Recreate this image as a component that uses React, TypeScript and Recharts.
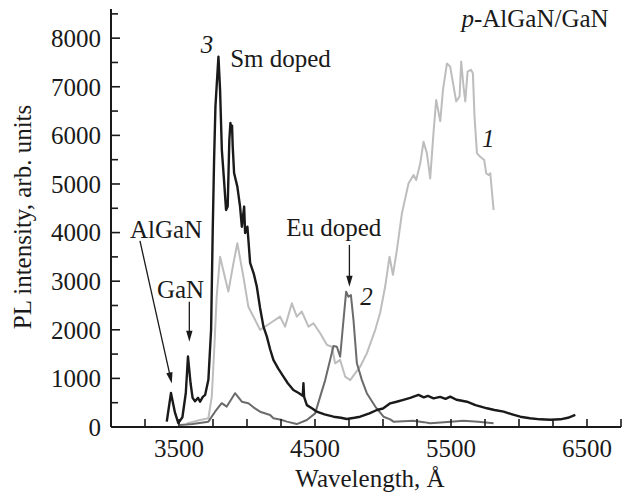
import React from 'react';
import { LineChart, Line, XAxis, YAxis, ReferenceDot, ReferenceLine } from 'recharts';

// Curve 3: Sm doped (black)
const smWavelength = [3410, 3441, 3470, 3495, 3525, 3550, 3566, 3585, 3600, 3618, 3640, 3655, 3675, 3692, 3716, 3736, 3748, 3758, 3768, 3790, 3802, 3815, 3831, 3846, 3858, 3870, 3878, 3885, 3890, 3895, 3905, 3929, 3949, 3962, 3979, 3986, 4003, 4023, 4050, 4072, 4096, 4121, 4146, 4170, 4194, 4230, 4268, 4300, 4341, 4380, 4410, 4415, 4420, 4440, 4480, 4513, 4570, 4636, 4690, 4734, 4790, 4832, 4900, 4955, 5000, 5053, 5100, 5150, 5200, 5261, 5300, 5330, 5372, 5420, 5460, 5494, 5540, 5580, 5617, 5680, 5720, 5764, 5820, 5887, 5950, 6009, 6080, 6156, 6230, 6304, 6360, 6414];
const smIntensity = [110, 700, 300, 80, 200, 700, 1450, 900, 600, 530, 600, 520, 620, 660, 970, 2000, 4050, 5500, 6600, 7620, 6935, 5700, 5080, 4466, 4535, 5900, 6255, 6150, 6200, 5770, 5225, 4945, 4535, 4120, 4535, 3990, 4120, 3375, 3150, 2890, 2450, 2065, 1860, 1600, 1380, 1200, 1035, 900, 760, 700, 640, 900, 620, 450, 380, 315, 260, 212, 190, 165, 190, 212, 280, 350, 380, 487, 520, 560, 600, 660, 610, 640, 590, 620, 580, 625, 560, 540, 520, 450, 420, 385, 350, 315, 260, 212, 180, 158, 150, 158, 190, 247];

// Curve 2: Eu doped (dark gray)
const euWavelength = [3508, 3600, 3716, 3765, 3814, 3851, 3880, 3912, 3940, 3962, 4010, 4050, 4096, 4170, 4194, 4250, 4293, 4366, 4440, 4501, 4538, 4575, 4611, 4636, 4661, 4685, 4705, 4729, 4746, 4764, 4783, 4808, 4845, 4881, 4943, 5004, 5053, 5077, 5150, 5222, 5300, 5347, 5450, 5590, 5700, 5813];
const euIntensity = [40, 60, 110, 315, 490, 420, 550, 695, 600, 520, 490, 400, 315, 247, 180, 150, 110, 60, 145, 280, 625, 965, 1380, 1665, 1650, 1445, 2065, 2785, 2680, 2715, 2200, 1310, 965, 695, 420, 212, 158, 110, 120, 130, 100, 75, 100, 130, 110, 75];

// Curve 1: undoped p-AlGaN/GaN (light gray)
const undopedWavelength = [3557, 3655, 3716, 3741, 3760, 3777, 3802, 3831, 3863, 3900, 3929, 3973, 4010, 4060, 4096, 4170, 4243, 4280, 4330, 4366, 4403, 4452, 4489, 4538, 4587, 4624, 4648, 4685, 4722, 4759, 4795, 4832, 4881, 4943, 4979, 5016, 5048, 5073, 5102, 5139, 5188, 5225, 5244, 5274, 5298, 5323, 5347, 5371, 5391, 5421, 5441, 5470, 5494, 5538, 5563, 5575, 5592, 5605, 5622, 5647, 5661, 5673, 5691, 5715, 5744, 5759, 5776, 5789, 5813];
const undopedIntensity = [75, 145, 180, 625, 1650, 2680, 3505, 3160, 2785, 3365, 3780, 3100, 2475, 2200, 2000, 2135, 2270, 2065, 2545, 2270, 2375, 2065, 2135, 1930, 1690, 1650, 1310, 1380, 1035, 965, 1105, 1240, 1515, 2000, 2350, 2890, 3505, 3130, 3640, 4395, 5015, 5185, 5080, 5425, 5870, 5630, 5115, 6040, 6730, 6290, 6935, 7480, 7415, 6700, 6800, 7520, 7005, 6700, 7310, 7350, 7275, 6380, 5630, 5560, 5495, 5220, 5185, 5220, 4465];

const xTicks = [3250, 3500, 3750, 4000, 4250, 4500, 4750, 5000, 5250, 5500, 5750, 6000, 6250, 6500, 6750];
const xLabels = [3500, 4500, 5500, 6500];
const yTicks = [0, 500, 1000, 1500, 2000, 2500, 3000, 3500, 4000, 4500, 5000, 5500, 6000, 6500, 7000, 7500, 8000, 8500];
const yLabels = [0, 1000, 2000, 3000, 4000, 5000, 6000, 7000, 8000];

const zip = (xs: number[], ys: number[]) => xs.map((x, i) => ({ x, y: ys[i] }));
const smData = zip(smWavelength, smIntensity);
const euData = zip(euWavelength, euIntensity);
const undopedData = zip(undopedWavelength, undopedIntensity);

const FONT = '"Liberation Serif", "Times New Roman", serif';
const INK = '#1a1a1a';

const XTick = (props: any) => {
  const { x, y, payload } = props;
  const v = payload.value;
  return (
    <g>
      <line x1={x} y1={y} x2={x} y2={y - 8} stroke={INK} strokeWidth={1.6} />
      {xLabels.includes(v) && (
        <text x={x} y={y + 30} textAnchor="middle" fontFamily={FONT} fontSize={25} fill={INK}>{v}</text>
      )}
    </g>
  );
};

const YTick = (props: any) => {
  const { x, y, payload } = props;
  const v = payload.value;
  const major = yLabels.includes(v);
  return (
    <g>
      {v !== 0 && <line x1={x} y1={y} x2={x + (major ? 9 : 7)} y2={y} stroke={INK} strokeWidth={1.6} />}
      {major && (
        <text x={x - 10} y={y} dy="0.35em" textAnchor="end" fontFamily={FONT} fontSize={25} fill={INK}>{v}</text>
      )}
    </g>
  );
};

const Arrow = (p: any) => {
  const { x1, y1, x2, y2 } = p;
  const dx = x2 - x1, dy = y2 - y1;
  const len = Math.hypot(dx, dy) || 1;
  const ux = dx / len, uy = dy / len;
  const hl = 11, hw = 3.2;
  const bx = x2 - ux * hl, by = y2 - uy * hl;
  return (
    <g>
      <line x1={x1} y1={y1} x2={bx + ux * 2} y2={by + uy * 2} stroke={INK} strokeWidth={1.3} />
      <polygon points={`${x2},${y2} ${bx - uy * hw},${by + ux * hw} ${bx + uy * hw},${by - ux * hw}`} fill={INK} />
    </g>
  );
};

const makeText = (content: React.ReactNode, anchor: string = 'start', italic = false) => (p: any) => (
  <text x={p.cx} y={p.cy} textAnchor={anchor as any} fontFamily={FONT} fontSize={25} fill={INK} fontStyle={italic ? 'italic' : 'normal'}>
    {content}
  </text>
);

export default function App() {
  return (
    <div style={{ position: 'absolute', left: 0, top: 0, background: '#fff' }}>
      <LineChart width={623} height={499} margin={{ top: 9, right: 2, bottom: 0, left: 0 }}>
        <XAxis
          type="number"
          dataKey="x"
          domain={[3000, 6750]}
          ticks={xTicks}
          interval={0}
          tickSize={0}
          tickMargin={0}
          tickLine={false}
          tick={<XTick />}
          height={72}
          axisLine={{ stroke: INK, strokeWidth: 2 }}
          allowDataOverflow
          label={{
            content: (p: any) => {
              const vb = p.viewBox || { x: 111, y: 427, width: 510 };
              return (
                <text x={vb.x + vb.width / 2 + 4} y={vb.y + 60} textAnchor="middle" fontFamily={FONT} fontSize={25} fill={INK}>
                  Wavelength, Å
                </text>
              );
            },
          }}
        />
        <YAxis
          type="number"
          domain={[0, 8600]}
          ticks={yTicks}
          interval={0}
          tickSize={0}
          tickMargin={0}
          tickLine={false}
          tick={<YTick />}
          width={111}
          axisLine={{ stroke: INK, strokeWidth: 2 }}
          allowDataOverflow
          label={{
            content: (p: any) => {
              const vb = p.viewBox || { x: 0, y: 9, width: 111, height: 418 };
              const cx = vb.x + 31;
              const cy = vb.y + vb.height / 2 - 1;
              return (
                <text x={cx} y={cy} transform={`rotate(-90, ${cx}, ${cy})`} textAnchor="middle" fontFamily={FONT} fontSize={25} fill={INK}>
                  PL intensity, arb. units
                </text>
              );
            },
          }}
        />
        <Line data={undopedData} dataKey="y" type="linear" stroke="#bdbdbd" strokeWidth={2} dot={false} isAnimationActive={false} strokeLinejoin="round" />
        <Line data={euData} dataKey="y" type="linear" stroke="#6b6b6b" strokeWidth={2} dot={false} isAnimationActive={false} strokeLinejoin="round" />
        <Line data={smData} dataKey="y" type="linear" stroke={INK} strokeWidth={2.4} dot={false} isAnimationActive={false} strokeLinejoin="round" />

        <ReferenceLine segment={[{ x: 3213, y: 3828 }, { x: 3447, y: 897 }]} shape={Arrow} ifOverflow="visible" />
        <ReferenceLine segment={[{ x: 3576, y: 2579 }, { x: 3576, y: 1755 }]} shape={Arrow} ifOverflow="visible" />
        <ReferenceLine segment={[{ x: 4753, y: 3746 }, { x: 4753, y: 2887 }]} shape={Arrow} ifOverflow="visible" />

        <ReferenceDot x={5577} y={8230} r={0} ifOverflow="visible" shape={makeText(<><tspan fontStyle="italic">p</tspan>-AlGaN/GaN</>)} />
        <ReferenceDot x={3706} y={7697} r={0} ifOverflow="visible" shape={makeText('3', 'middle', true)} />
        <ReferenceDot x={3876} y={7409} r={0} ifOverflow="visible" shape={makeText('Sm doped')} />
        <ReferenceDot x={5774} y={5762} r={0} ifOverflow="visible" shape={makeText('1', 'middle', true)} />
        <ReferenceDot x={3140} y={3890} r={0} ifOverflow="visible" shape={makeText('AlGaN')} />
        <ReferenceDot x={4288} y={3931} r={0} ifOverflow="visible" shape={makeText('Eu doped')} />
        <ReferenceDot x={3338} y={2655} r={0} ifOverflow="visible" shape={makeText('GaN')} />
        <ReferenceDot x={4832} y={2511} r={0} ifOverflow="visible" shape={makeText('2', 'start', true)} />
      </LineChart>
    </div>
  );
}
